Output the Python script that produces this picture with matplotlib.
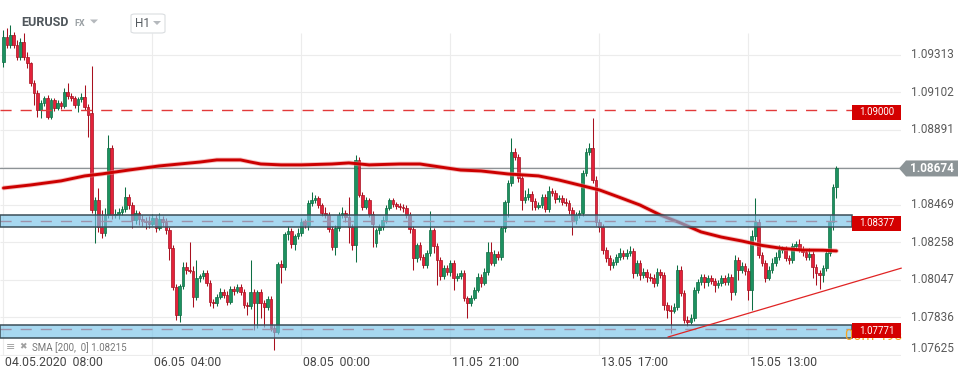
import numpy as np
import matplotlib.pyplot as plt
from matplotlib.patches import Rectangle, Polygon, FancyBboxPatch
from matplotlib.transforms import blended_transform_factory

plt.rcParams['font.family'] = ['Roboto', 'DejaVu Sans']

# EURUSD H1 candles
opens = [
    1.09273, 1.09414, 1.09369, 1.09425, 1.09369, 1.09302, 1.09386, 1.09302, 1.09267, 1.09155,
    1.09099, 1.09003, 1.09042, 1.09071, 1.08964, 1.09059, 1.09014, 1.09042, 1.09025, 1.09105,
    1.09082, 1.09071, 1.09031, 1.09065, 1.09077, 1.09020, 1.08986, 1.08440, 1.08497, 1.08345,
    1.08311, 1.08412, 1.08789, 1.08412, 1.08417, 1.08429, 1.08446, 1.08514, 1.08469, 1.08384,
    1.08423, 1.08389, 1.08378, 1.08373, 1.08361, 1.08395, 1.08339, 1.08389, 1.08373, 1.08328,
    1.08227, 1.08007, 1.07850, 1.08012, 1.08120, 1.08103, 1.08097, 1.07951, 1.08058, 1.08069,
    1.08086, 1.08029, 1.07923, 1.07917, 1.07951, 1.07979, 1.07962, 1.07923, 1.07996, 1.07984,
    1.08007, 1.07979, 1.07906, 1.07900, 1.07979, 1.07917, 1.07979, 1.07917, 1.07895, 1.07939,
    1.07776, 1.07754, 1.08136, 1.08120, 1.08305, 1.08322, 1.08249, 1.08294, 1.08311, 1.08373,
    1.08356, 1.08480, 1.08497, 1.08508, 1.08469, 1.08423, 1.08412, 1.08333, 1.08233, 1.08339,
    1.08412, 1.08423, 1.08401, 1.08345, 1.08244, 1.08722, 1.08525, 1.08458, 1.08497, 1.08417,
    1.08255, 1.08328, 1.08345, 1.08384, 1.08452, 1.08497, 1.08474, 1.08463, 1.08458, 1.08452,
    1.08412, 1.08333, 1.08170, 1.08244, 1.08176, 1.08131, 1.08198, 1.08328, 1.08238, 1.08159,
    1.08069, 1.08114, 1.08092, 1.08142, 1.08058, 1.08069, 1.08086, 1.07945, 1.07917, 1.07945,
    1.07990, 1.08064, 1.08029, 1.08092, 1.08204, 1.08142, 1.08192, 1.08176, 1.08339, 1.08486,
    1.08592, 1.08767, 1.08739, 1.08620, 1.08497, 1.08514, 1.08530, 1.08491, 1.08458, 1.08469,
    1.08514, 1.08446, 1.08547, 1.08536, 1.08502, 1.08508, 1.08486, 1.08480, 1.08440, 1.08384,
    1.08412, 1.08423, 1.08648, 1.08767, 1.08789, 1.08609, 1.08373, 1.08345, 1.08215, 1.08170,
    1.08131, 1.08148, 1.08176, 1.08198, 1.08181, 1.08198, 1.08209, 1.08086, 1.08142, 1.08075,
    1.08092, 1.08064, 1.08058, 1.08029, 1.08092, 1.08075, 1.07906, 1.07878, 1.07872, 1.07895,
    1.08103, 1.07973, 1.07821, 1.07810, 1.07833, 1.07990, 1.08035, 1.08064, 1.08035, 1.08058,
    1.08040, 1.08018, 1.08029, 1.08058, 1.08035, 1.08064, 1.07979, 1.08159, 1.08103, 1.08125,
    1.08097, 1.07990, 1.08294, 1.08373, 1.08187, 1.08142, 1.08058, 1.08103, 1.08142, 1.08176,
    1.08215, 1.08221, 1.08170, 1.08159, 1.08238, 1.08249, 1.08221, 1.08204, 1.08176, 1.08192,
    1.08120, 1.08086, 1.08075, 1.08114, 1.08198, 1.08373, 1.08570,
]
closes = [
    1.09414, 1.09369, 1.09425, 1.09369, 1.09302, 1.09386, 1.09302, 1.09267, 1.09155, 1.09099,
    1.09003, 1.09042, 1.09071, 1.08964, 1.09059, 1.09014, 1.09042, 1.09025, 1.09105, 1.09082,
    1.09071, 1.09031, 1.09065, 1.09077, 1.09020, 1.08975, 1.08440, 1.08497, 1.08345, 1.08311,
    1.08412, 1.08789, 1.08412, 1.08417, 1.08429, 1.08446, 1.08514, 1.08469, 1.08384, 1.08423,
    1.08389, 1.08378, 1.08373, 1.08361, 1.08395, 1.08339, 1.08389, 1.08373, 1.08328, 1.08227,
    1.08007, 1.07850, 1.08012, 1.08120, 1.08103, 1.08097, 1.07951, 1.08058, 1.08069, 1.08086,
    1.08029, 1.07923, 1.07917, 1.07951, 1.07979, 1.07962, 1.07923, 1.07996, 1.07984, 1.08007,
    1.07979, 1.07906, 1.07900, 1.07979, 1.07917, 1.07979, 1.07917, 1.07895, 1.07939, 1.07776,
    1.07754, 1.08136, 1.08120, 1.08305, 1.08322, 1.08249, 1.08294, 1.08311, 1.08373, 1.08356,
    1.08480, 1.08497, 1.08508, 1.08469, 1.08423, 1.08412, 1.08333, 1.08233, 1.08339, 1.08412,
    1.08423, 1.08401, 1.08345, 1.08244, 1.08722, 1.08525, 1.08458, 1.08497, 1.08417, 1.08361,
    1.08328, 1.08345, 1.08384, 1.08452, 1.08497, 1.08474, 1.08463, 1.08458, 1.08452, 1.08412,
    1.08333, 1.08170, 1.08244, 1.08176, 1.08131, 1.08198, 1.08328, 1.08238, 1.08159, 1.08069,
    1.08114, 1.08092, 1.08142, 1.08058, 1.08069, 1.08086, 1.07945, 1.07917, 1.07945, 1.07990,
    1.08064, 1.08029, 1.08092, 1.08204, 1.08142, 1.08192, 1.08176, 1.08339, 1.08486, 1.08592,
    1.08767, 1.08739, 1.08620, 1.08497, 1.08514, 1.08530, 1.08491, 1.08458, 1.08469, 1.08514,
    1.08446, 1.08547, 1.08536, 1.08502, 1.08508, 1.08486, 1.08480, 1.08440, 1.08384, 1.08412,
    1.08423, 1.08648, 1.08767, 1.08789, 1.08609, 1.08373, 1.08345, 1.08215, 1.08170, 1.08131,
    1.08148, 1.08176, 1.08198, 1.08181, 1.08198, 1.08209, 1.08086, 1.08142, 1.08075, 1.08092,
    1.08064, 1.08058, 1.08029, 1.08092, 1.08075, 1.07906, 1.07878, 1.07872, 1.07895, 1.08103,
    1.07973, 1.07821, 1.07810, 1.07833, 1.07990, 1.08035, 1.08064, 1.08035, 1.08058, 1.08040,
    1.08018, 1.08029, 1.08058, 1.08035, 1.08064, 1.07979, 1.08159, 1.08103, 1.08125, 1.08097,
    1.07990, 1.08294, 1.08373, 1.08187, 1.08142, 1.08058, 1.08103, 1.08142, 1.08176, 1.08215,
    1.08221, 1.08170, 1.08159, 1.08238, 1.08249, 1.08221, 1.08204, 1.08176, 1.08192, 1.08120,
    1.08086, 1.08075, 1.08114, 1.08198, 1.08373, 1.08570, 1.08674,
]
highs = [
    1.09453, 1.09464, 1.09481, 1.09442, 1.09397, 1.09408, 1.09436, 1.09330, 1.09273, 1.09172,
    1.09116, 1.09059, 1.09082, 1.09088, 1.09071, 1.09071, 1.09059, 1.09053, 1.09127, 1.09155,
    1.09099, 1.09082, 1.09077, 1.09099, 1.09144, 1.09036, 1.09250, 1.08514, 1.08564, 1.08440,
    1.08452, 1.08862, 1.08806, 1.08446, 1.08452, 1.08463, 1.08570, 1.08530, 1.08486, 1.08440,
    1.08434, 1.08412, 1.08401, 1.08406, 1.08417, 1.08412, 1.08423, 1.08406, 1.08395, 1.08345,
    1.08244, 1.08023, 1.08023, 1.08148, 1.08148, 1.08261, 1.08125, 1.08159, 1.08080, 1.08103,
    1.08103, 1.08046, 1.07939, 1.07967, 1.08001, 1.07996, 1.07984, 1.08012, 1.08012, 1.08023,
    1.08023, 1.07996, 1.07923, 1.08159, 1.07996, 1.07990, 1.07996, 1.07934, 1.07956, 1.07956,
    1.07793, 1.08148, 1.08159, 1.08317, 1.08350, 1.08339, 1.08305, 1.08339, 1.08395, 1.08389,
    1.08497, 1.08542, 1.08525, 1.08519, 1.08480, 1.08458, 1.08429, 1.08350, 1.08356, 1.08429,
    1.08458, 1.08440, 1.08514, 1.08361, 1.08750, 1.08739, 1.08542, 1.08514, 1.08508, 1.08434,
    1.08339, 1.08361, 1.08406, 1.08469, 1.08508, 1.08508, 1.08486, 1.08480, 1.08474, 1.08469,
    1.08429, 1.08350, 1.08255, 1.08261, 1.08192, 1.08215, 1.08434, 1.08339, 1.08255, 1.08176,
    1.08131, 1.08131, 1.08159, 1.08159, 1.08086, 1.08103, 1.08103, 1.07956, 1.07962, 1.08007,
    1.08086, 1.08080, 1.08114, 1.08261, 1.08261, 1.08215, 1.08209, 1.08350, 1.08497, 1.08609,
    1.08845, 1.08789, 1.08755, 1.08637, 1.08553, 1.08564, 1.08547, 1.08508, 1.08486, 1.08530,
    1.08530, 1.08575, 1.08564, 1.08553, 1.08525, 1.08525, 1.08508, 1.08497, 1.08458, 1.08429,
    1.08440, 1.08665, 1.08789, 1.08817, 1.08958, 1.08631, 1.08389, 1.08361, 1.08233, 1.08187,
    1.08164, 1.08192, 1.08227, 1.08215, 1.08221, 1.08238, 1.08227, 1.08159, 1.08159, 1.08114,
    1.08108, 1.08086, 1.08080, 1.08114, 1.08108, 1.08092, 1.07923, 1.07906, 1.07917, 1.08131,
    1.08125, 1.07990, 1.07844, 1.07855, 1.08007, 1.08052, 1.08080, 1.08080, 1.08075, 1.08075,
    1.08058, 1.08046, 1.08075, 1.08075, 1.08086, 1.08080, 1.08187, 1.08176, 1.08148, 1.08142,
    1.08114, 1.08328, 1.08508, 1.08389, 1.08204, 1.08159, 1.08125, 1.08170, 1.08204, 1.08244,
    1.08238, 1.08238, 1.08187, 1.08255, 1.08266, 1.08277, 1.08238, 1.08221, 1.08227, 1.08209,
    1.08136, 1.08103, 1.08131, 1.08215, 1.08412, 1.08586, 1.08688,
]
lows = [
    1.09245, 1.09352, 1.09352, 1.09352, 1.09284, 1.09284, 1.09284, 1.09239, 1.09138, 1.09031,
    1.08964, 1.08958, 1.09025, 1.08952, 1.08952, 1.08997, 1.09003, 1.09008, 1.09014, 1.09065,
    1.09053, 1.09014, 1.08992, 1.09048, 1.09003, 1.08851, 1.08423, 1.08255, 1.08317, 1.08283,
    1.08294, 1.08395, 1.08389, 1.08395, 1.08389, 1.08412, 1.08429, 1.08446, 1.08339, 1.08361,
    1.08356, 1.08350, 1.08333, 1.08339, 1.08350, 1.08317, 1.08328, 1.08350, 1.08305, 1.08159,
    1.07990, 1.07821, 1.07810, 1.07996, 1.08080, 1.08086, 1.07895, 1.07934, 1.08035, 1.08052,
    1.08012, 1.07900, 1.07889, 1.07900, 1.07939, 1.07945, 1.07906, 1.07911, 1.07962, 1.07973,
    1.07962, 1.07889, 1.07850, 1.07883, 1.07765, 1.07776, 1.07833, 1.07782, 1.07878, 1.07759,
    1.07653, 1.07742, 1.08029, 1.08103, 1.08272, 1.08227, 1.08215, 1.08277, 1.08294, 1.08339,
    1.08328, 1.08463, 1.08480, 1.08452, 1.08406, 1.08395, 1.08317, 1.08215, 1.08187, 1.08322,
    1.08395, 1.08373, 1.08255, 1.08215, 1.08148, 1.08514, 1.08440, 1.08446, 1.08401, 1.08233,
    1.08233, 1.08305, 1.08328, 1.08367, 1.08440, 1.08458, 1.08446, 1.08440, 1.08429, 1.08395,
    1.08311, 1.08103, 1.08148, 1.08159, 1.08114, 1.08114, 1.08181, 1.08198, 1.08018, 1.08046,
    1.08052, 1.08075, 1.08069, 1.07990, 1.08040, 1.08052, 1.07928, 1.07833, 1.07900, 1.07934,
    1.07979, 1.08007, 1.08018, 1.08075, 1.08131, 1.08125, 1.08159, 1.08159, 1.08317, 1.08401,
    1.08575, 1.08722, 1.08598, 1.08440, 1.08480, 1.08497, 1.08440, 1.08440, 1.08446, 1.08452,
    1.08429, 1.08429, 1.08519, 1.08480, 1.08486, 1.08469, 1.08463, 1.08417, 1.08300, 1.08361,
    1.08395, 1.08406, 1.08631, 1.08750, 1.08592, 1.08350, 1.08317, 1.08192, 1.08148, 1.08103,
    1.08114, 1.08131, 1.08159, 1.08164, 1.08164, 1.08181, 1.08058, 1.08069, 1.08046, 1.08058,
    1.08035, 1.08040, 1.08007, 1.08012, 1.08058, 1.07878, 1.07833, 1.07748, 1.07861, 1.07878,
    1.07956, 1.07804, 1.07787, 1.07798, 1.07815, 1.07973, 1.08018, 1.08001, 1.08012, 1.08023,
    1.07979, 1.08001, 1.08012, 1.08018, 1.08018, 1.07934, 1.07962, 1.08046, 1.08086, 1.08075,
    1.07934, 1.07878, 1.08272, 1.08170, 1.08125, 1.08035, 1.08046, 1.08086, 1.08125, 1.08159,
    1.08198, 1.08153, 1.08136, 1.08142, 1.08221, 1.08204, 1.08181, 1.08159, 1.08159, 1.08058,
    1.08018, 1.07996, 1.08035, 1.08097, 1.08181, 1.08328, 1.08508,
]

# SMA(200) line, sampled at these candle indices
sma_idx = [0, 8, 17, 24, 29, 37, 46, 58, 63, 70, 73, 76, 82, 88, 97, 102, 108, 117, 123,
           129, 135, 141, 149, 158, 164, 170, 176, 182, 188, 194, 200, 206, 212, 218, 224,
           230, 236, 242, 246]
sma_val = [1.08564, 1.08581, 1.08604, 1.08632, 1.08643, 1.08665, 1.08688, 1.08710, 1.08722,
           1.08722, 1.08710, 1.08699, 1.08694, 1.08694, 1.08699, 1.08705, 1.08694, 1.08699,
           1.08699, 1.08682, 1.08665, 1.08660, 1.08643, 1.08632, 1.08609, 1.08581, 1.08553,
           1.08511, 1.08468, 1.08412, 1.08367, 1.08317, 1.08288, 1.08266, 1.08241, 1.08224,
           1.08215, 1.08214, 1.08210]

levels = [1.09000, 1.08377, 1.07771]
bands = [(1.08343, 1.08413), (1.07719, 1.07794)]
trend_idx = [196.3, 265.1]
trend_price = [1.07726, 1.08113]
last_price = 1.08674

price_ticks = [1.07625, 1.07836, 1.08047, 1.08258, 1.08469, 1.08680, 1.08891, 1.09102, 1.09313]
time_idx = [0, 44, 88, 132, 176, 220]
time_labels = ['04.05.2020  08:00', '06.05  04:00', '08.05  00:00',
               '11.05  21:00', '13.05  17:00', '15.05  13:00']

W, H = 970, 381
def fpx(x, y):
    return (x / W, 1 - y / H)

fig = plt.figure(figsize=(W / 100, H / 100), dpi=100)
ax = fig.add_axes([0, 25 / H, 901 / W, 344 / H])
ax.set_xlim(-1.03, 265.06)
ax.set_ylim(1.07619, 1.09554)
ax.axis('off')
blend = blended_transform_factory(ax.transAxes, ax.transData)
blend_x = blended_transform_factory(ax.transData, ax.transAxes)

# grid
ax.hlines(price_ticks, -1.03, 265.06, color='#ececec', lw=0.8, zorder=0)
ax.vlines(time_idx, 1.07619, 1.09436, color='#ececec', lw=0.8, zorder=0)
ax.axhline(last_price, color='#8d9396', lw=0.9, zorder=1)

# candles
o = np.array(opens); c = np.array(closes)
h = np.array(highs); l = np.array(lows)
idx = np.arange(len(c))
up = c >= o
edge = np.where(up, '#0d6e43', '#a8101f')
fill = np.where(up, '#1c9160', '#e3223a')
ax.vlines(idx, l, h, colors=edge, lw=0.75, zorder=2)
ax.bar(idx, np.maximum(np.abs(c - o), 0.00004), bottom=np.minimum(o, c), width=0.8,
       color=fill, edgecolor=edge, linewidth=0.5, zorder=3)

# SMA
ax.plot(sma_idx, sma_val, color='#ee8a8a', lw=3.4, alpha=0.55, solid_capstyle='round', zorder=4)
ax.plot(sma_idx, sma_val, color='#cc0000', lw=2.1, solid_capstyle='round', zorder=4.1)

# horizontal levels (under the bands)
for lvl in levels:
    ax.axhline(lvl, xmin=0, xmax=852 / 901, color='#e23a3a', lw=1.0, dashes=(8, 6.5), zorder=4.5)

for lo, hi in bands:
    ax.add_patch(Rectangle((0, lo), 852 / 901, hi - lo, transform=blend, fc='#78c3e8',
                           ec='none', alpha=0.65, zorder=5))
    ax.add_patch(Rectangle((0, lo), 852 / 901, hi - lo, transform=blend, fill=False,
                           ec='#3b4e58', lw=1.1, zorder=5.1))

ax.plot(trend_idx, trend_price, color='#e02424', lw=0.9, zorder=6, clip_on=False)

# countdown text partly hidden behind the last red label
ax.text(845 / W, 1 - 336.5 / H, '00m 49s', transform=fig.transFigure, fontsize=10.5,
        color='#f5a623', va='center', ha='left', zorder=7, clip_on=False)

# red level labels
for lvl in levels:
    ax.add_patch(Rectangle((852 / 901, lvl - 0.00053), 49 / 901, 0.00084, transform=blend,
                           fc='#d40000', ec='none', zorder=8, clip_on=False))
    ax.text(876.5 / 901, lvl - 0.00011, f'{lvl:.5f}', transform=blend, ha='center',
            va='center', color='white', fontsize=7, zorder=9, clip_on=False)

# price axis labels
for t in price_ticks:
    if abs(t - last_price) < 0.0001:
        continue
    ax.text(911 / 901, t, f'{t:.5f}', transform=blend, ha='left',
            va='bottom' if t == price_ticks[0] else 'center',
            fontsize=8.5, color='#5a5a5a', clip_on=False)

# last price tag
d = 0.00045
tag = Polygon([(899 / 901, last_price), (906 / 901, last_price + d), (958 / 901, last_price + d),
               (958 / 901, last_price - d), (906 / 901, last_price - d)],
              closed=True, transform=blend, fc='#8c9497', ec='none', zorder=8, clip_on=False)
ax.add_patch(tag)
ax.text(932 / 901, last_price, f'{last_price:.5f}', transform=blend, ha='center', va='center',
        color='white', fontsize=8.5, fontweight='bold', zorder=9, clip_on=False)

# time labels
for t, lab in zip(time_idx, time_labels):
    ax.text(t + 0.4, -0.02, lab, transform=blend_x, ha='left', va='center',
            fontsize=8.8, color='#454545', clip_on=False)

# header
fig.text(*fpx(21, 23), 'EURUSD', fontsize=9, fontweight='bold', color='#50575c', va='center')
fig.text(*fpx(74, 24), 'FX', fontsize=6.5, fontweight='bold', color='#9aa0a4', va='center')
fig.add_artist(Polygon([fpx(90, 19.5), fpx(98, 19.5), fpx(94, 23.5)], closed=True,
                       transform=fig.transFigure, fc='#b5b9bd', ec='none'))
fig.add_artist(FancyBboxPatch(fpx(131, 33), 34 / W, 19 / H,
                              boxstyle='round,pad=0,rounding_size=0.004',
                              transform=fig.transFigure, fc='white', ec='#dadde0', lw=0.8))
fig.text(*fpx(135, 23.5), 'H1', fontsize=8.5, color='#555b60', va='center')
fig.add_artist(Polygon([fpx(153, 21), fpx(161, 21), fpx(157, 25)], closed=True,
                       transform=fig.transFigure, fc='#b5b9bd', ec='none'))

# indicator legend
fig.text(*fpx(6, 347), '≡', fontsize=8, color='#a0a0a0', va='center')
fig.text(*fpx(19, 347), '✖', fontsize=6.5, color='#a0a0a0', va='center')
fig.text(*fpx(32, 348), 'SMA [200,  0] 1.08215', fontsize=7, color='#777777', va='center')

fig.savefig('out.png', dpi=100, facecolor='white')
